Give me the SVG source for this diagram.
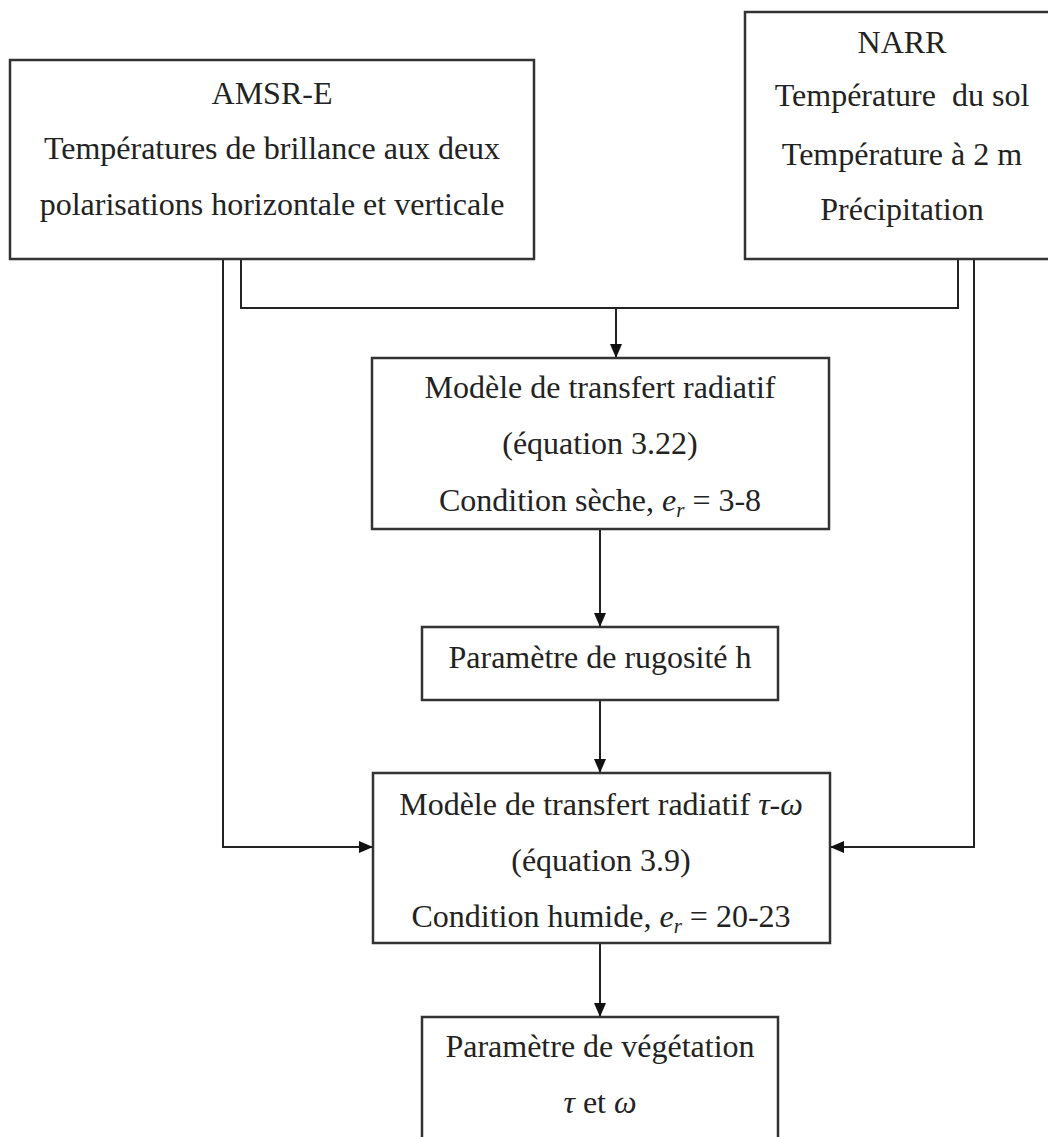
<svg xmlns="http://www.w3.org/2000/svg" width="1048" height="1137" viewBox="0 0 1048 1137">
<style>
.box{fill:#fff;stroke:#333;stroke-width:2.5}
.ln{fill:none;stroke:#222;stroke-width:2}
text{font-family:"Liberation Serif","Times New Roman",serif;font-size:32px;fill:#222;text-anchor:middle}
.i{font-style:italic}
.sub{font-style:italic;font-size:21px}
</style>
<defs>
<marker id="ah" viewBox="0 0 14 12" refX="14" refY="6" markerWidth="14" markerHeight="12" markerUnits="userSpaceOnUse" orient="auto">
<path d="M0,0 L14,6 L0,12 z" fill="#111"/>
</marker>
</defs>
<rect width="1048" height="1137" fill="#fff"/>
<g id="connectors">
<polyline class="ln" points="241,259 241,308 958,308 958,259"/>
<line class="ln" x1="616" y1="308" x2="616" y2="358" marker-end="url(#ah)"/>
<line class="ln" x1="600" y1="529" x2="600" y2="627" marker-end="url(#ah)"/>
<line class="ln" x1="600" y1="700" x2="600" y2="773" marker-end="url(#ah)"/>
<polyline class="ln" points="223,259 223,847 373,847" marker-end="url(#ah)"/>
<polyline class="ln" points="974,259 974,847 830,847" marker-end="url(#ah)"/>
<line class="ln" x1="600" y1="943" x2="600" y2="1017" marker-end="url(#ah)"/>
</g>
<g id="amsr">
<rect class="box" x="10" y="60" width="524" height="199"/>
<text x="272" y="104">AMSR-E</text>
<text x="272" y="159">Températures de brillance aux deux</text>
<text x="272" y="215">polarisations horizontale et verticale</text>
</g>
<g id="narr">
<rect class="box" x="745" y="12" width="320" height="247"/>
<text x="902" y="53">NARR</text>
<text x="902" y="106" xml:space="preserve">Température  du sol</text>
<text x="902" y="165">Température à 2 m</text>
<text x="902" y="220">Précipitation</text>
</g>
<g id="modele1">
<rect class="box" x="372" y="358" width="457" height="171"/>
<text x="600" y="398">Modèle de transfert radiatif</text>
<text x="600" y="454">(équation 3.22)</text>
<text x="600" y="511">Condition sèche, <tspan class="i">e</tspan><tspan class="sub" dy="6">r</tspan><tspan dy="-6"> = 3-8</tspan></text>
</g>
<g id="rugosite">
<rect class="box" x="422" y="627" width="356" height="73"/>
<text x="600" y="668">Paramètre de rugosité h</text>
</g>
<g id="modele2">
<rect class="box" x="373" y="773" width="457" height="170"/>
<text x="601" y="815">Modèle de transfert radiatif <tspan class="i">τ</tspan>-<tspan class="i">ω</tspan></text>
<text x="601" y="871">(équation 3.9)</text>
<text x="601" y="927">Condition humide, <tspan class="i">e</tspan><tspan class="sub" dy="6">r</tspan><tspan dy="-6"> = 20-23</tspan></text>
</g>
<g id="vegetation">
<path class="box" d="M422,1145 L422,1017 L778,1017 L778,1145"/>
<text x="600" y="1057">Paramètre de végétation</text>
<text x="600" y="1113"><tspan class="i">τ</tspan> et <tspan class="i">ω</tspan></text>
</g>
</svg>
